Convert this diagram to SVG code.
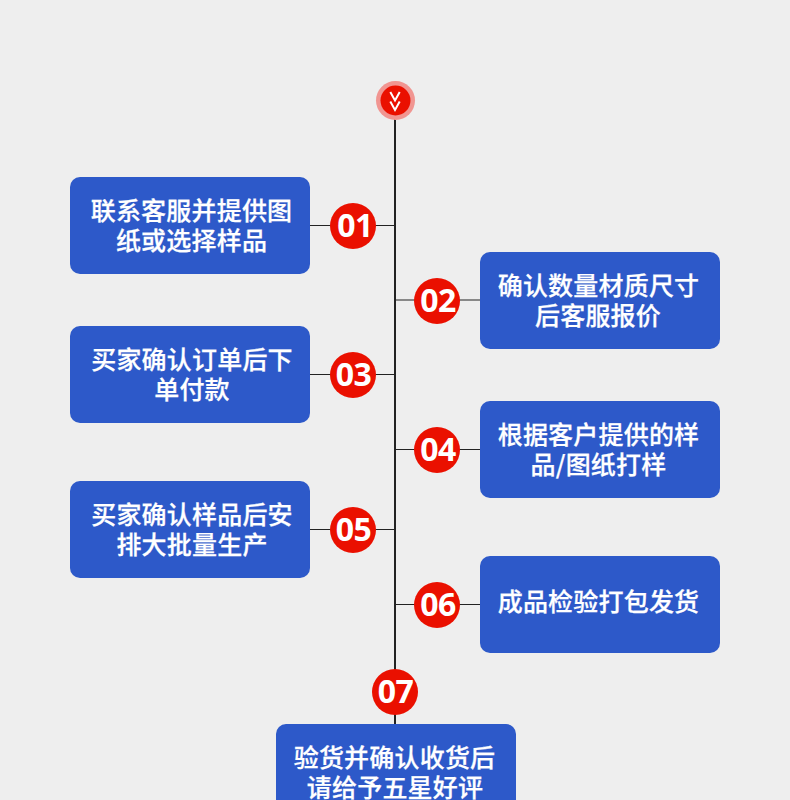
<svg xmlns="http://www.w3.org/2000/svg" width="790" height="800" viewBox="0 0 790 800">
<style>
.box{fill:#2d59c9}
.badge{fill:#ea1000}
.t{font-family:"Noto Sans CJK SC","Noto Sans",sans-serif;font-size:25px;font-weight:500;letter-spacing:.2px;fill:#fff;stroke:#fff;stroke-width:.25px;text-anchor:middle}
.n{font-family:"Noto Sans","Open Sans",sans-serif;font-size:32px;font-weight:700;letter-spacing:-.6px;fill:#fff;text-anchor:middle}
.l{stroke:#222;fill:none}
</style>
<rect width="790" height="800" fill="#eeeeee"/>
<g id="connectors">
<path class="l" stroke-width="2" d="M395 118V724"/>
<path class="l" stroke-width="1" d="M310 225.500H395M395 300H480M310 374.500H395M395 449.500H480M310 529.500H395M395 604.500H480"/>
</g>
<g id="start">
<circle cx="395.500" cy="100.500" r="19.500" fill="#f19591"/>
<circle cx="395.500" cy="100.500" r="15" fill="#ea1000"/>
<path d="M390.300 92l4.700 8.500 4.700-8.500M390.300 101.500l4.700 8.500 4.700-8.500" fill="none" stroke="#fff" stroke-width="2"/>
</g>
<g id="step01">
<rect class="box" x="70" y="177" width="240" height="97" rx="10"/>
<circle class="badge" cx="353" cy="226" r="23"/>
<text class="n" x="355" y="237">01</text>
<text class="t"><tspan x="191.500" y="220">联系客服并提供图</tspan><tspan x="191.500" y="250">纸或选择样品</tspan></text>
</g>
<g id="step02">
<rect class="box" x="480" y="252" width="240" height="97" rx="10"/>
<circle class="badge" cx="437" cy="301" r="23"/>
<text class="n" x="438" y="312">02</text>
<text class="t"><tspan x="598.500" y="295">确认数量材质尺寸</tspan><tspan x="598" y="325">后客服报价</tspan></text>
</g>
<g id="step03">
<rect class="box" x="70" y="326" width="240" height="97" rx="10"/>
<circle class="badge" cx="353" cy="375" r="23"/>
<text class="n" x="353.500" y="386">03</text>
<text class="t"><tspan x="192" y="369">买家确认订单后下</tspan><tspan x="192" y="399">单付款</tspan></text>
</g>
<g id="step04">
<rect class="box" x="480" y="401" width="240" height="97" rx="10"/>
<circle class="badge" cx="437" cy="450" r="23"/>
<text class="n" x="438" y="461">04</text>
<text class="t"><tspan x="598.500" y="444">根据客户提供的样</tspan><tspan x="598.500" y="474">品/图纸打样</tspan></text>
</g>
<g id="step05">
<rect class="box" x="70" y="481" width="240" height="97" rx="10"/>
<circle class="badge" cx="353" cy="530" r="23"/>
<text class="n" x="353.500" y="541">05</text>
<text class="t"><tspan x="192" y="524">买家确认样品后安</tspan><tspan x="192" y="554">排大批量生产</tspan></text>
</g>
<g id="step06">
<rect class="box" x="480" y="556" width="240" height="97" rx="10"/>
<circle class="badge" cx="437" cy="605" r="23"/>
<text class="n" x="438" y="616">06</text>
<text class="t" x="598.500" y="611">成品检验打包发货</text>
</g>
<g id="step07">
<rect class="box" x="276" y="724" width="240" height="97" rx="10"/>
<circle class="badge" cx="395" cy="692" r="23"/>
<text class="n" x="395.500" y="703">07</text>
<text class="t"><tspan x="394.500" y="767">验货并确认收货后</tspan><tspan x="395" y="797">请给予五星好评</tspan></text>
</g>
</svg>
